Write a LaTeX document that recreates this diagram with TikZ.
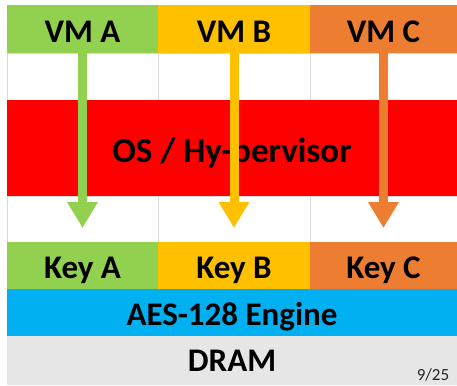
\documentclass[tikz,border=0pt]{standalone}
\usepackage{fontspec}
\setmainfont{Carlito}
\usetikzlibrary{arrows.meta}
\usetikzlibrary{positioning}
\definecolor{vmgreen}{HTML}{92D050}
\definecolor{vmyellow}{HTML}{FFC000}
\definecolor{vmorange}{HTML}{ED7D31}
\definecolor{osred}{HTML}{FF0000}
\definecolor{aesblue}{HTML}{00B0F0}
\definecolor{dramgray}{HTML}{E7E6E6}
\definecolor{gridgray}{HTML}{D9D9D9}
\begin{document}
\begin{tikzpicture}[x=1pt,y=1pt,every node/.style={anchor=north west,inner sep=0pt,outer sep=0pt},
  cell/.style={font=\bfseries\fontsize{33}{33}\selectfont,text height=26pt,text depth=0pt},
  vmcell/.style={font=\bfseries\fontsize{33}{33}\selectfont,text height=27pt,text depth=0pt,minimum height=48pt},
  gap/.style={draw=gridgray,line width=0.8pt,fill=white,minimum height=47pt},
  vmarrow/.style={line width=9pt,-{Triangle[width=29pt,length=26pt]},shorten >=14pt}]
\useasboundingbox (0,0) rectangle (457,-385);
\node[vmcell,fill=vmgreen,minimum width=151pt] (vmA) at (7,-5) {VM A};
\node[vmcell,fill=vmyellow,minimum width=152pt] (vmB) at (158,-5) {VM B};
\node[vmcell,fill=vmorange,minimum width=147pt] (vmC) at (310,-5) {VM C};
\node[gap,minimum width=151pt] (gA) at (7,-53) {};
\node[gap,minimum width=152pt] (gB) at (158,-53) {};
\node[gap,minimum width=147pt] (gC) at (310,-53) {};
\node[cell,font=\bfseries\fontsize{35}{35}\selectfont,text height=29pt,fill=osred,minimum width=450pt,minimum height=96pt] (os) at (7,-100) {OS / Hy-pervisor};
\node[gap,minimum width=151pt,minimum height=46pt] (hA) at (7,-196) {};
\node[gap,minimum width=152pt,minimum height=46pt] (hB) at (158,-196) {};
\node[gap,minimum width=147pt,minimum height=46pt] (hC) at (310,-196) {};
\node[cell,fill=vmgreen,minimum width=151pt,minimum height=47pt] (keyA) at (7,-242) {Key A};
\node[cell,fill=vmyellow,minimum width=152pt,minimum height=47pt] (keyB) at (158,-242) {Key B};
\node[cell,fill=vmorange,minimum width=147pt,minimum height=47pt] (keyC) at (310,-242) {Key C};
\node[cell,fill=aesblue,minimum width=450pt,minimum height=47pt] (aes) at (7,-289) {AES-128 Engine};
\node[cell,fill=dramgray,minimum width=450pt,minimum height=49pt,text height=22pt] (dram) at (7,-336) {DRAM};
\node[anchor=center,font=\fontsize{17}{17}\selectfont,text=black!85] (page) at (433,-375) {9/25};
\draw[vmarrow,vmgreen](vmA.south)--(keyA.north);
\draw[vmarrow,vmyellow](vmB.south)--(keyB.north);
\draw[vmarrow,vmorange](vmC.south)--(keyC.north);
\end{tikzpicture}
\end{document}
